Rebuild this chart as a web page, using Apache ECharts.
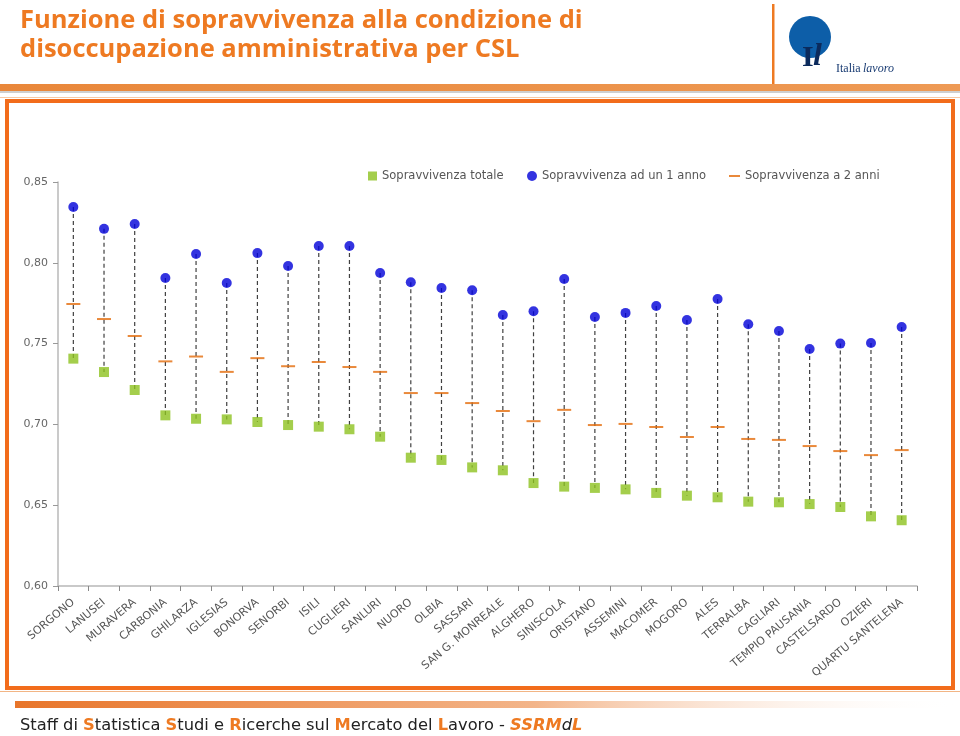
<!DOCTYPE html>
<html>
<head>
<meta charset="utf-8">
<script src="https://cdn.jsdelivr.net/npm/echarts@6/dist/echarts.min.js"></script>
<style>html,body{margin:0;padding:0;background:#fff}#c{width:960px;height:736px}</style>
</head>
<body>
<div id="c"></div>
<script>
var categories = ['SORGONO','LANUSEI','MURAVERA','CARBONIA','GHILARZA','IGLESIAS','BONORVA','SENORBI','ISILI','CUGLIERI','SANLURI','NUORO','OLBIA','SASSARI','SAN G. MONREALE','ALGHERO','SINISCOLA','ORISTANO','ASSEMINI','MACOMER','MOGORO','ALES','TERRALBA','CAGLIARI','TEMPIO PAUSANIA','CASTELSARDO','OZIERI','QUARTU SANTELENA'];
var survTotale = [0.7407,0.7324,0.7213,0.7056,0.7035,0.7031,0.7015,0.6996,0.6986,0.6970,0.6924,0.6794,0.6780,0.6734,0.6716,0.6637,0.6615,0.6607,0.6598,0.6576,0.6559,0.6549,0.6522,0.6518,0.6507,0.6489,0.6431,0.6407];
var surv1anno = [0.8345,0.8210,0.8240,0.7906,0.8055,0.7875,0.8060,0.7980,0.8104,0.8104,0.7937,0.7880,0.7844,0.7830,0.7677,0.7700,0.7900,0.7665,0.7690,0.7733,0.7646,0.7776,0.7620,0.7578,0.7467,0.7500,0.7504,0.7603];
var surv2anni = [0.7745,0.7652,0.7547,0.7390,0.7420,0.7325,0.7410,0.7360,0.7386,0.7355,0.7325,0.7194,0.7194,0.7132,0.7083,0.7020,0.7090,0.6996,0.7003,0.6984,0.6922,0.6984,0.6910,0.6904,0.6866,0.6835,0.6810,0.6841];
var yTicks = {min: 0.60, max: 0.85, interval: 0.05};
var seriesNames = ['Sopravvivenza totale','Sopravvivenza ad un 1 anno','Sopravvivenza a 2 anni'];
var titleLines = ['Funzione di sopravvivenza alla condizione di','disoccupazione amministrativa per CSL'];

var chart = echarts.init(document.getElementById('c'));
var ORANGE = '#EE7A22';
var rangeData = categories.map(function(c,i){ return [i, surv1anno[i], survTotale[i]]; });

var legendCommon = {top: 165, textStyle:{color:'#555', fontSize:11.5, fontFamily:'DejaVu Sans'}, itemGap: 10, selectedMode:false};

chart.setOption({
  backgroundColor: '#fff',
  animation: false,
  textStyle: {fontFamily: 'DejaVu Sans'},
  grid: {left: 58, right: 43, top: 182, bottom: 150},
  legend: [
    Object.assign({}, legendCommon, {left: 363, data:[seriesNames[0]], itemWidth: 9, itemHeight: 9, icon:'rect'}),
    Object.assign({}, legendCommon, {left: 522, data:[seriesNames[1]], itemWidth: 10, itemHeight: 10, icon:'circle'}),
    Object.assign({}, legendCommon, {left: 724, data:[seriesNames[2]], itemWidth: 11, itemHeight: 2, icon:'rect'})
  ],
  xAxis: {
    type: 'category', data: categories, boundaryGap: true,
    axisLine: {lineStyle:{color:'#B8B8B8', width:1.5}},
    axisTick: {show:true, length:5, lineStyle:{color:'#888'}},
    axisLabel: {interval:0, rotate:40, fontSize:11, color:'#555', fontFamily:'DejaVu Sans', margin:15}
  },
  yAxis: {
    type: 'value', min: yTicks.min, max: yTicks.max, interval: yTicks.interval,
    splitLine: {show:false},
    axisLine: {show:true, lineStyle:{color:'#B8B8B8', width:1.5}},
    axisTick: {show:true, length:5, lineStyle:{color:'#999'}},
    axisLabel: {color:'#666', fontSize:11, fontFamily:'DejaVu Sans', margin:10,
      formatter: function(v){ return v.toFixed(2).replace('.', ','); }}
  },
  series: [
    {
      type: 'custom', name: 'range', silent: true, z: 1,
      data: rangeData,
      renderItem: function(params, api){
        var p1 = api.coord([api.value(0), api.value(1)]);
        var p2 = api.coord([api.value(0), api.value(2)]);
        return {type:'line', shape:{x1:p1[0], y1:p1[1], x2:p2[0], y2:p2[1]},
          style:{stroke:'#404040', lineWidth:1.2, lineDash:[4,3]}};
      }
    },
    {type:'scatter', name: seriesNames[0], data: survTotale, symbol:'rect', symbolSize:10, itemStyle:{color:'#8DC21F'}, z:3},
    {type:'scatter', name: seriesNames[1], data: surv1anno, symbol:'circle', symbolSize:10, itemStyle:{color:'#0000D8'}, z:3},
    {type:'scatter', name: seriesNames[2], data: surv2anni, symbol:'rect', symbolSize:[14,2], itemStyle:{color:'#E46C0A'}, z:3}
  ],
  graphic: [
    {type:'text', left: 20, top: 8, style:{text: titleLines[0], fill: ORANGE, font: 'bold 25.5px "Open Sans"'}},
    {type:'text', left: 20, top: 37, style:{text: titleLines[1], fill: ORANGE, font: 'bold 25.5px "Open Sans"'}},
    {type:'rect', shape:{x:772, y:4, width:2.5, height:86}, style:{fill: ORANGE}},
    {type:'circle', shape:{cx:810, cy:37, r:21}, style:{fill:'#0D5EA8'}},
    {type:'text', x: 802, y: 58, style:{text:'I', fill:'#0B2A5C', font:'bold 30px "Liberation Serif"', textAlign:'left', textVerticalAlign:'middle'}},
    {type:'text', x: 813, y: 57, style:{text:'l', fill:'#0B2A5C', font:'italic bold 32px "Liberation Serif"', textAlign:'left', textVerticalAlign:'middle'}},
    {type:'text', x: 836, y: 69, style:{text:'Italia', fill:'#1A3C73', font:'12px "Liberation Serif"', textVerticalAlign:'middle'}},
    {type:'text', x: 863, y: 69, style:{text:'lavoro', fill:'#1A3C73', font:'italic 12px "Liberation Serif"', textVerticalAlign:'middle'}},
    {type:'rect', shape:{x:0, y:84, width:960, height:7}, style:{fill: new echarts.graphic.LinearGradient(0,0,1,0,[{offset:0,color:'#E9873A'},{offset:1,color:'#EE9A55'}])}},
    {type:'rect', shape:{x:0, y:91, width:960, height:2}, style:{fill:'#CFCFCF'}},
    {type:'rect', shape:{x:0, y:97, width:960, height:1}, style:{fill:'#F7C9A5'}},
    {type:'rect', z:-1, shape:{x:7, y:101, width:946, height:587}, style:{fill:'none', stroke:'#F26C1B', lineWidth:4}},
    {type:'rect', shape:{x:0, y:691, width:960, height:1}, style:{fill:'#F2B585'}},
    {type:'rect', shape:{x:15, y:701, width:945, height:7}, style:{fill: new echarts.graphic.LinearGradient(0,0,1,0,[{offset:0,color:'#E8752A'},{offset:0.55,color:'#F3B58A'},{offset:1,color:'rgba(255,255,255,0)'}])}},
    {type:'text', left: 20, top: 718, style:{
      text: '{n|Staff di }{o|S}{n|tatistica }{o|S}{n|tudi e }{o|R}{n|icerche sul }{o|M}{n|ercato del }{o|L}{n|avoro - }{b|SSRM}{d|d}{b|L}',
      rich: {
        n: {fill:'#222', font:'16.3px "DejaVu Sans"'},
        o: {fill:'#EE7A22', font:'bold 16.3px "DejaVu Sans"'},
        b: {fill:'#EE7A22', font:'italic bold 16.3px "DejaVu Sans"'},
        d: {fill:'#222', font:'italic 16.3px "DejaVu Sans"'}
      }}}
  ]
});
</script>
</body>
</html>
